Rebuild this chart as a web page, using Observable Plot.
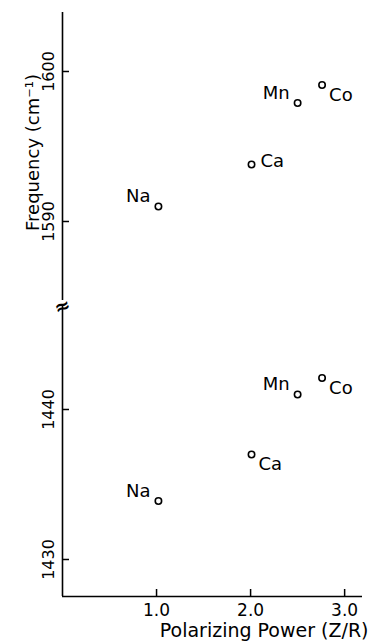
<!DOCTYPE html>
<html><head><meta charset="utf-8">
<script src="https://cdn.jsdelivr.net/npm/d3@7"></script>
<script src="https://cdn.jsdelivr.net/npm/@observablehq/plot@0.6"></script>
<style>
html,body{margin:0;padding:0;background:#fff;}
#chart{width:372px;}
#chart svg{display:block;overflow:visible;}
</style></head><body><div id="chart"></div>
<script>
// ---- data ----
const metals = ["Na", "Ca", "Mn", "Co"];
const polarizingPower = [1.02, 2.01, 2.5, 2.76];
const freqHigh = [1591.0, 1593.8, 1597.9, 1599.1];
const freqLow = [1433.9, 1437.0, 1441.0, 1442.1];
const xTicks = [1.0, 2.0, 3.0];
const yTicksHigh = [1590, 1600];
const yTicksLow = [1430, 1440];
const xLabel = "Polarizing Power (Z/R)";
const yLabel = "Frequency (cm⁻¹)";

// ---- layout / style (not data) ----
const FONT = "DejaVu Sans";
const W = 372, ML = 62, MR = 10, TICK = 7;
const xDomain = [0, 3.19];
const yDomainHigh = [1584.733, 1603.933];
const yDomainLow = [1427.533, 1446.933];
const placeHigh = {Na: "ul", Ca: "r", Mn: "ul", Co: "dr"};
const placeLow = {Na: "ul", Ca: "dr", Mn: "ul", Co: "dr"};
const placeStyle = {
  ul: {textAnchor: "end", dx: -8, dy: -10},
  r: {textAnchor: "start", dx: 9, dy: -3},
  dr: {textAnchor: "start", dx: 7, dy: 10}
};

function rows(freqs) {
  return metals.map((m, i) => ({metal: m, pp: polarizingPower[i], f: freqs[i]}));
}

function labelMarks(data, place) {
  return Object.keys(placeStyle).map(k =>
    Plot.text(data.filter(d => place[d.metal] === k), {
      x: "pp", y: "f", text: "metal", fontSize: 18, lineAnchor: "middle",
      ...placeStyle[k]
    })
  );
}

function panel({freqs, yTicks, yDomain, place, height, marginTop, marginBottom, top, bottom}) {
  const data = rows(freqs);
  const frameW = W - ML - MR;
  const frameH = height - marginTop - marginBottom;
  const marks = [
    Plot.ruleX([0], {strokeWidth: 1.6}),
    Plot.tickY(yTicks, {y: d => d, insetRight: frameW - TICK, strokeWidth: 1.5}),
    Plot.text(yTicks, {y: d => d, text: d => String(d), frameAnchor: "left", rotate: -90,
      lineAnchor: "bottom", textAnchor: "middle", dx: -9, fontSize: 16}),
    Plot.dot(data, {x: "pp", y: "f", r: 3.2, stroke: "#000", strokeWidth: 1.6, fill: "#fff"}),
    ...labelMarks(data, place)
  ];
  if (top) {
    marks.push(Plot.text([yLabel], {frameAnchor: "left", rotate: -90, lineAnchor: "bottom",
      textAnchor: "middle", dx: -24, dy: -4, fontSize: 18}));
  }
  if (bottom) {
    marks.push(Plot.ruleY([yDomain[0]], {strokeWidth: 1.6}));
    marks.push(Plot.tickX(xTicks, {x: d => d, insetTop: frameH - TICK, strokeWidth: 1.5}));
    marks.push(Plot.text(xTicks, {x: d => d, text: d => d3.format(".1f")(d), frameAnchor: "bottom",
      lineAnchor: "top", dy: 7, fontSize: 17}));
    marks.push(Plot.text([xLabel], {frameAnchor: "bottom-right", textAnchor: "end",
      lineAnchor: "bottom", dx: 6, dy: 40, fontSize: 19}));
    marks.push(Plot.text(["≈"], {frameAnchor: "top-left", rotate: -20, fontSize: 19,
      fontWeight: "bold", lineAnchor: "middle", textAnchor: "middle", dy: 1}));
  }
  return Plot.plot({
    width: W, height, marginLeft: ML, marginRight: MR, marginTop, marginBottom,
    x: {domain: xDomain, axis: null},
    y: {domain: yDomain, axis: null},
    style: {fontFamily: FONT, color: "#000", background: "#fff", overflow: "visible"},
    marks
  });
}

const el = document.getElementById("chart");
el.append(panel({freqs: freqHigh, yTicks: yTicksHigh, yDomain: yDomainHigh, place: placeHigh,
  height: 300, marginTop: 12, marginBottom: 0, top: true}));
el.append(panel({freqs: freqLow, yTicks: yTicksLow, yDomain: yDomainLow, place: placeLow,
  height: 341, marginTop: 5, marginBottom: 45, bottom: true}));
</script>
</body></html>
